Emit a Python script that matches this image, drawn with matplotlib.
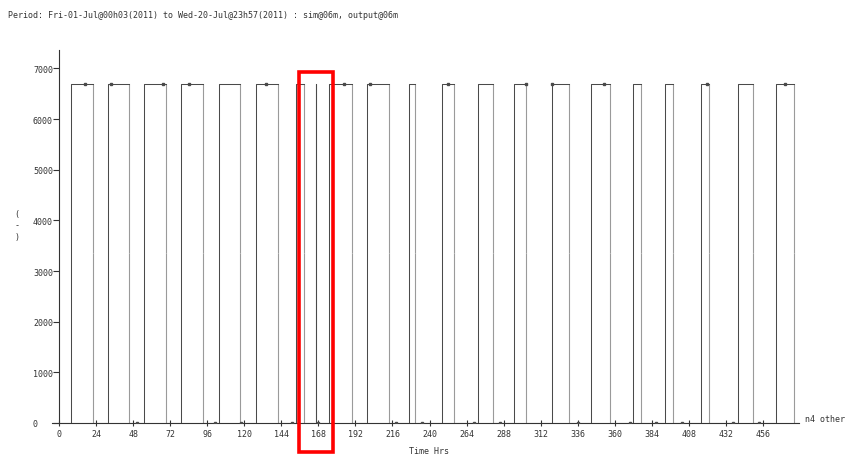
import numpy as np
import matplotlib
matplotlib.use("Agg")
import matplotlib.pyplot as plt
from matplotlib.patches import Rectangle
import matplotlib.transforms as mtransforms

# Occupied periods (hours from start of simulation): switch-on / switch-off
on_hours = [7.8, 31.5, 55.2, 79.0, 103.6, 127.8, 153.3, 166.3, 175.1, 199.7,
            226.5, 248.3, 271.2, 294.9, 319.1, 344.4, 372.0, 392.3, 416.0,
            439.8, 464.2]
off_hours = [21.8, 45.3, 69.1, 93.1, 117.4, 141.8, 158.7, 166.4, 190.0, 213.5,
             230.6, 255.6, 281.1, 302.5, 330.3, 357.1, 377.1, 397.5, 421.2,
             449.7, 476.2]
peak_value = 6700.0
ramp_value = 3350.0          # averaged value in the timestep after switch-off
timestep_hrs = 0.1           # 6 minute output
sim_hours = 480.0
marker_every = 168           # one marker every 168 timesteps

x_ticks = list(range(0, 457, 24))
y_ticks = list(range(0, 7001, 1000))
title = "Period: Fri-01-Jul@00h03(2011) to Wed-20-Jul@23h57(2011) : sim@06m, output@06m"
x_label = "Time Hrs"
y_label = "(\n-\n)"
series_label = "n4 other"
highlight_hours = (155.6, 177.5)

# build the 6-minute time series
n = int(round(sim_hours / timestep_hrs)) + 1
t = np.round(np.arange(n) * timestep_hrs, 1)
y = np.zeros(n)
for on, off in zip(on_hours, off_hours):
    y[(t >= on - 1e-6) & (t < off - 1e-6)] = peak_value
    y[(t >= off - 1e-6) & (t < off + timestep_hrs - 1e-6)] = ramp_value

# step path: horizontals and rising edges in dark, falling edges split out
xs, ys = [t[0]], [y[0]]
for i in range(n - 1):
    xs.append(t[i + 1]); ys.append(y[i])
    if y[i + 1] < y[i]:
        xs.append(np.nan); ys.append(np.nan)
        xs.append(t[i + 1]); ys.append(y[i + 1])
    else:
        xs.append(t[i + 1]); ys.append(y[i + 1])
drop = np.where(y[1:] < y[:-1])[0]

W, H = 846, 456
fig = plt.figure(figsize=(W / 100, H / 100), dpi=100)
fig.patch.set_facecolor("white")
ax_left, ax_right, ax_top, ax_bottom = 51.7, 799.0, 50.6, 424.0
ax = fig.add_axes([ax_left / W, (H - ax_bottom) / H,
                   (ax_right - ax_left) / W, (ax_bottom - ax_top) / H])

font = {"family": "DejaVu Sans Mono", "size": 6, "color": "#333333"}
dark = "#4a4a4a"
grey = "#9a9a9a"

ax.plot(xs, ys, color=dark, lw=0.75, snap=True, zorder=3)
ax.vlines(t[drop + 1], y[drop + 1], y[drop], colors=grey, linewidths=0.8,
          zorder=2)
ax.plot(t, y, ls="none", marker="s", ms=1.8, mfc=dark, mec=dark,
        markevery=(marker_every, marker_every), zorder=4)

ax.set_xlim(-4.7, 479.3)
ax.set_ylim(0, 7370)
ax.spines["left"].set_position(("data", 0))
for s in ("top", "right"):
    ax.spines[s].set_visible(False)
for s in ("left", "bottom"):
    ax.spines[s].set_color("#333333")
    ax.spines[s].set_linewidth(0.8)

ax.set_xticks(x_ticks)
ax.set_yticks(y_ticks)
ax.tick_params(axis="x", direction="inout", length=5, width=0.8, color="#333333",
               pad=2, labelsize=6, labelcolor="#333333")
ax.tick_params(axis="y", direction="out", length=4, width=0.8, color="#333333",
               pad=14.7, labelsize=6, labelcolor="#333333")
for lab in ax.get_xticklabels() + ax.get_yticklabels():
    lab.set_family("DejaVu Sans Mono")
for lab in ax.get_yticklabels():
    lab.set_ha("left")

fig.text(8 / W, 1 - 15 / H, title, ha="left", va="center", **font)
fig.text(428.5 / W, 1 - 451.5 / H, x_label, ha="center", va="center", **font)
fig.text(17 / W, 1 - 226 / H, y_label, ha="center", va="center",
         linespacing=1.3, **font)
fig.text(805 / W, 1 - 420 / H, series_label, ha="left", va="center", **font)

# highlight box around the short-occupancy period
trans = mtransforms.blended_transform_factory(ax.transData, fig.transFigure)
box_top, box_bottom = 73.3, 453.0
ax.add_patch(Rectangle((highlight_hours[0], (H - box_bottom) / H),
                       highlight_hours[1] - highlight_hours[0],
                       (box_bottom - box_top) / H,
                       transform=trans, fill=False, ec="#ff0000", lw=2.6,
                       clip_on=False, zorder=10))

fig.savefig("out.png", dpi=100)
